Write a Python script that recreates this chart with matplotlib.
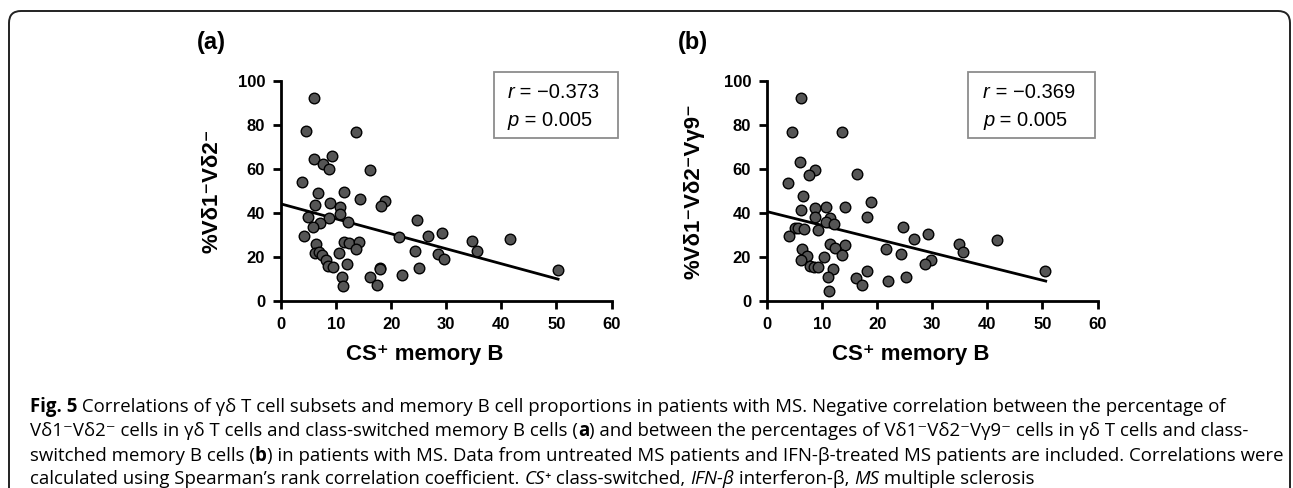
import matplotlib
matplotlib.use("Agg")
import matplotlib.pyplot as plt
import numpy as np
from matplotlib.patches import FancyBboxPatch, Rectangle
from matplotlib.transforms import IdentityTransform

# panel (a): CS+ memory B vs %Vd1-Vd2-
a_x = [6.0, 4.5, 13.7, 9.3, 6.0, 7.7, 8.7, 16.2, 3.9, 11.4, 6.7, 14.3, 18.9, 8.9,
       18.2, 6.1, 10.7, 10.7, 4.9, 8.8, 12.2, 7.0, 5.8, 24.6, 4.1, 21.5, 26.6, 29.3,
       34.7, 41.5, 11.5, 12.4, 14.2, 13.7, 6.3, 35.5, 24.4, 28.5, 29.6, 6.1, 6.9, 7.4,
       8.1, 8.5, 9.4, 10.5, 11.9, 17.9, 18.0, 25.1, 50.3, 11.0, 16.1, 22.0, 11.2, 17.4]
a_y = [92.0, 77.1, 76.8, 66.0, 64.2, 62.1, 59.7, 59.4, 54.1, 49.4, 49.1, 46.4, 45.5, 44.5,
       43.0, 43.3, 42.6, 39.4, 38.2, 37.7, 35.9, 35.5, 33.6, 36.5, 29.4, 29.1, 29.2, 30.6,
       27.1, 27.9, 26.8, 26.4, 26.8, 23.6, 25.8, 22.7, 22.6, 21.1, 18.8, 21.8, 22.3, 20.8,
       18.5, 15.8, 15.5, 21.8, 16.7, 15.0, 14.2, 14.7, 13.9, 10.9, 10.9, 11.7, 6.8, 7.3]
a_fit = (44.0, -0.68)  # intercept, slope
a_fit_x = [0.4, 50.3]
a_stats = ("\u22120.373", "0.005")

# panel (b): CS+ memory B vs %Vd1-Vd2-Vg9-
b_x = [6.1, 4.5, 13.6, 6.0, 8.7, 7.6, 16.4, 3.9, 6.6, 18.8, 14.2, 8.8, 10.7, 6.1,
       18.2, 8.8, 11.5, 10.7, 12.2, 24.7, 5.0, 5.7, 6.8, 9.2, 4.0, 26.7, 29.3, 34.8,
       41.7, 11.5, 14.1, 12.4, 6.3, 21.6, 35.6, 24.4, 7.3, 10.4, 13.7, 29.7, 28.6, 6.1,
       7.8, 8.5, 9.3, 12.0, 18.1, 50.5, 11.1, 16.1, 25.2, 22.0, 17.3, 11.3]
b_y = [92.3, 76.7, 76.7, 63.2, 59.2, 57.0, 57.7, 53.5, 47.7, 44.8, 42.7, 42.1, 42.4, 41.2,
       38.0, 38.0, 37.6, 35.8, 34.7, 33.6, 32.9, 32.9, 32.6, 32.1, 29.5, 28.0, 30.3, 25.6,
       27.4, 25.6, 25.3, 23.8, 23.5, 23.5, 22.0, 21.2, 20.3, 20.0, 20.6, 18.5, 16.8, 18.3,
       15.9, 15.2, 15.5, 14.4, 13.6, 13.3, 10.8, 10.5, 10.8, 8.8, 7.0, 4.5]
b_fit = (40.5, -0.624)
b_fit_x = [0.0, 50.6]
b_stats = ("\u22120.369", "0.005")

W, H = 1293, 488
fig = plt.figure(figsize=(W / 100, H / 100), dpi=100)
AX_FONT = ["Liberation Sans", "DejaVu Sans"]
CAP_FONT = ["Open Sans", "DejaVu Sans"]


def put_pieces(x, y, pieces, size, family):
    """draw text pieces one after another on a line (x, y in pixels)"""
    renderer = fig.canvas.get_renderer()
    for txt, style in pieces:
        kw = dict(fontsize=size, family=family, va="center", ha="left",
                  transform=IdentityTransform())
        if style == "b":
            kw["fontweight"] = "bold"
        elif style == "i":
            kw["fontstyle"] = "italic"
        t = fig.text(x, y, txt, **kw)
        x = t.get_window_extent(renderer).x1


def panel(left, xs, ys, fit, fit_x, stats, ylab, lab_x, box_x0, box_x1, txt_x):
    ax = fig.add_axes([left / W, 1 - 300.7 / H, 330.5 / W, 220 / H])
    ax.scatter(xs, ys, s=58, color="#555555", edgecolors="black",
               linewidths=1.0, zorder=3, clip_on=False)
    fx = np.array(fit_x)
    ax.plot(fx, fit[0] + fit[1] * fx, color="black", lw=2.0, zorder=2)
    ax.set_xlim(0, 60)
    ax.set_ylim(0, 100)
    ax.set_xticks(range(0, 61, 10))
    ax.set_yticks(range(0, 101, 20))
    for s in ["top", "right"]:
        ax.spines[s].set_visible(False)
    for s in ["left", "bottom"]:
        ax.spines[s].set_linewidth(2.0)
    ax.tick_params(direction="out", length=5.5, width=2.0, labelsize=12)
    ax.tick_params(axis="x", pad=6)
    ax.tick_params(axis="y", pad=6)
    for lab in ax.get_xticklabels() + ax.get_yticklabels():
        lab.set_fontweight("bold")
        lab.set_family(AX_FONT)
    ax.set_ylabel(ylab, fontsize=16, fontweight="bold", family=AX_FONT)
    ax.yaxis.set_label_coords(lab_x, 0.5)
    ax.set_xlabel("CS\u207a memory B", fontsize=16, fontweight="bold", family=AX_FONT)
    ax.xaxis.set_label_coords(0.434, -0.195)
    ax.add_patch(Rectangle((box_x0, 0.7395), box_x1 - box_x0, 0.30,
                           transform=ax.transAxes, fill=False, edgecolor="#8c8c8c",
                           lw=1.3, clip_on=False))
    # stats text
    x0 = left + txt_x * 330.5
    put_pieces(x0, H - 93, [("r", "i"), (" = " + stats[0], "n")], 14.5, AX_FONT)
    put_pieces(x0, H - 120, [("p", "i"), (" = " + stats[1], "n")], 14.5, AX_FONT)
    return ax


panel(281, a_x, a_y, a_fit, a_fit_x, a_stats, "%V\u03b41\u207bV\u03b42\u207b",
      -0.178, 0.6435, 1.021, 0.686)
panel(767, b_x, b_y, b_fit, b_fit_x, b_stats,
      "%V\u03b41\u207bV\u03b42\u207bV\u03b39\u207b", -0.19, 0.608, 0.993, 0.654)

fig.text(197 / W, 1 - 43 / H, "(a)", fontsize=17, fontweight="bold", family=AX_FONT,
         va="center", ha="left")
fig.text(678 / W, 1 - 43 / H, "(b)", fontsize=17, fontweight="bold", family=AX_FONT,
         va="center", ha="left")

# outer frame, open at the bottom
fig.patches.append(FancyBboxPatch((9, -30), 1281, H - 11 + 30,
                                  boxstyle="round,pad=0,rounding_size=12",
                                  transform=IdentityTransform(), fill=False,
                                  edgecolor="#222222", lw=1.4))

# caption
cap = 13.4
put_pieces(30, H - 407, [("Fig. 5", "b"),
                         (" Correlations of \u03b3\u03b4 T cell subsets and memory B cell proportions in patients with MS. Negative correlation between the percentage of", "n")],
           cap, CAP_FONT)
put_pieces(30, H - 431.5, [("V\u03b41\u207bV\u03b42\u207b cells in \u03b3\u03b4 T cells and class-switched memory B cells (", "n"),
                           ("a", "b"),
                           (") and between the percentages of V\u03b41\u207bV\u03b42\u207bV\u03b39\u207b cells in \u03b3\u03b4 T cells and class-", "n")],
           cap, CAP_FONT)
put_pieces(30, H - 456, [("switched memory B cells (", "n"), ("b", "b"),
                         (") in patients with MS. Data from untreated MS patients and IFN-\u03b2-treated MS patients are included. Correlations were", "n")],
           cap, CAP_FONT)
put_pieces(30, H - 479.5, [("calculated using Spearman\u2019s rank correlation coefficient. ", "n"),
                           ("CS\u207a", "i"), (" class-switched, ", "n"), ("IFN-\u03b2", "i"),
                           (" interferon-\u03b2, ", "n"), ("MS", "i"), (" multiple sclerosis", "n")],
           cap, CAP_FONT)

fig.savefig("out.png", dpi=100)
